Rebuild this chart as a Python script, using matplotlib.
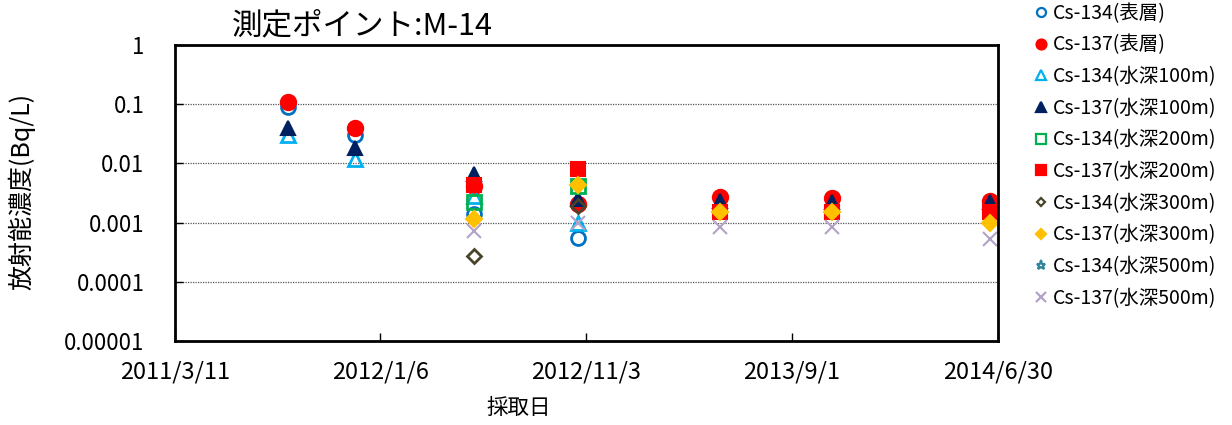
import datetime as dt
import numpy as np
import matplotlib
matplotlib.use("Agg")
import matplotlib.pyplot as plt
from matplotlib.lines import Line2D

plt.rcParams['font.family'] = ['Noto Sans CJK JP', 'DejaVu Sans']

# sampling dates
dates = ["2011/8/24", "2011/11/30", "2012/5/23", "2012/10/22",
         "2013/5/18", "2013/10/29", "2014/6/19"]
nan = np.nan
cs134_surf = [0.090, 0.030, 0.0014, 0.00054, nan, nan, nan]
cs137_surf = [0.11, 0.039, 0.0042, 0.0021, 0.0027, 0.0026, 0.0023]
cs134_100 = [0.030, 0.012, 0.0028, 0.0010, nan, nan, nan]
cs137_100 = [0.039, 0.018, 0.0066, 0.0025, 0.0023, 0.0022, 0.0022]
cs134_200 = [nan, nan, 0.0022, 0.0041, nan, nan, nan]
cs137_200 = [nan, nan, 0.0043, 0.0081, 0.0015, 0.0015, 0.0015]
cs134_300 = [nan, nan, 0.00027, 0.0019, nan, nan, nan]
cs137_300 = [nan, nan, 0.00117, 0.0043, 0.0015, 0.0015, 0.00097]
cs134_500 = [nan, nan, nan, nan, nan, nan, nan]
cs137_500 = [nan, nan, 0.00072, 0.0010, 0.00085, 0.00085, 0.00053]

series_labels = ["Cs-134(表層)", "Cs-137(表層)", "Cs-134(水深100m)", "Cs-137(水深100m)",
                 "Cs-134(水深200m)", "Cs-137(水深200m)", "Cs-134(水深300m)", "Cs-137(水深300m)",
                 "Cs-134(水深500m)", "Cs-137(水深500m)"]
xtick_labels = ["2011/3/11", "2012/1/6", "2012/11/3", "2013/9/1", "2014/6/30"]
ytick_values = [1, 0.1, 0.01, 0.001, 0.0001, 0.00001]
ytick_labels = ["1", "0.1", "0.01", "0.001", "0.0001", "0.00001"]


def to_date(s):
    return dt.datetime.strptime(s, "%Y/%m/%d")


x = [to_date(d) for d in dates]
xticks = [to_date(d) for d in xtick_labels]

# (marker, facecolor, edgecolor, size)
styles = [
    ("o", "none", "#0070C0", 10),
    ("o", "#FF0000", "#FF0000", 11),
    ("^", "none", "#00B0F0", 10),
    ("^", "#002060", "#002060", 10),
    ("s", "none", "#00B050", 10),
    ("s", "#FF0000", "#FF0000", 10),
    ("D", "none", "#494429", 7),
    ("D", "#FFC000", "#FFC000", 8),
    ("*", "none", "#31859C", 10),
    ("x", "#B3A2C7", "#B3A2C7", 10),
]
values = [cs134_surf, cs137_surf, cs134_100, cs137_100, cs134_200,
          cs137_200, cs134_300, cs137_300, cs134_500, cs137_500]

fig = plt.figure(figsize=(12.32, 4.25), dpi=100)
ax = fig.add_axes([175 / 1232, 1 - 341 / 425, 823 / 1232, 296 / 425])

handles = []
for vals, (m, fc, ec, ms), lab in zip(values, styles, series_labels):
    ax.plot(x, vals, linestyle="none", marker=m, markersize=ms,
            markerfacecolor=fc, markeredgecolor=ec, markeredgewidth=2 if fc == "none" else 1.5,
            clip_on=False)
    handles.append(Line2D([], [], linestyle="none", marker=m, markersize=ms * 0.65,
                          markerfacecolor=fc, markeredgecolor=ec, markeredgewidth=1.6,
                          label=lab))

ax.set_yscale("log")
ax.set_ylim(0.00001, 1)
ax.set_yticks(ytick_values)
ax.set_yticklabels(ytick_labels)
ax.minorticks_off()
ax.set_xlim(xticks[0], xticks[-1])
ax.set_xticks(xticks)
ax.set_xticklabels(xtick_labels)
ax.tick_params(axis="both", direction="in", length=6, width=1, labelsize=16)
ax.tick_params(axis="y", pad=22)
ax.tick_params(axis="x", pad=14, labelsize=17)
ax.grid(axis="y", color="#555555", linestyle=(0, (1, 1)), linewidth=0.9)
for sp in ax.spines.values():
    sp.set_linewidth(2)

fig.text(0.294, 0.94, "測定ポイント:M-14", fontsize=22, ha="center", va="center")
fig.text(0.018, 0.55, "放射能濃度(Bq/L)", fontsize=18, rotation=90, ha="center", va="center")
fig.text(0.421, 0.04, "採取日", fontsize=15.5, ha="center", va="center")

fig.legend(handles=handles, loc="upper left", bbox_to_anchor=(1025 / 1232, 1.012),
           frameon=False, fontsize=14, handlelength=0.8, handletextpad=0.25,
           labelspacing=0.55, borderaxespad=0.0)

fig.savefig("out.png", dpi=100)
